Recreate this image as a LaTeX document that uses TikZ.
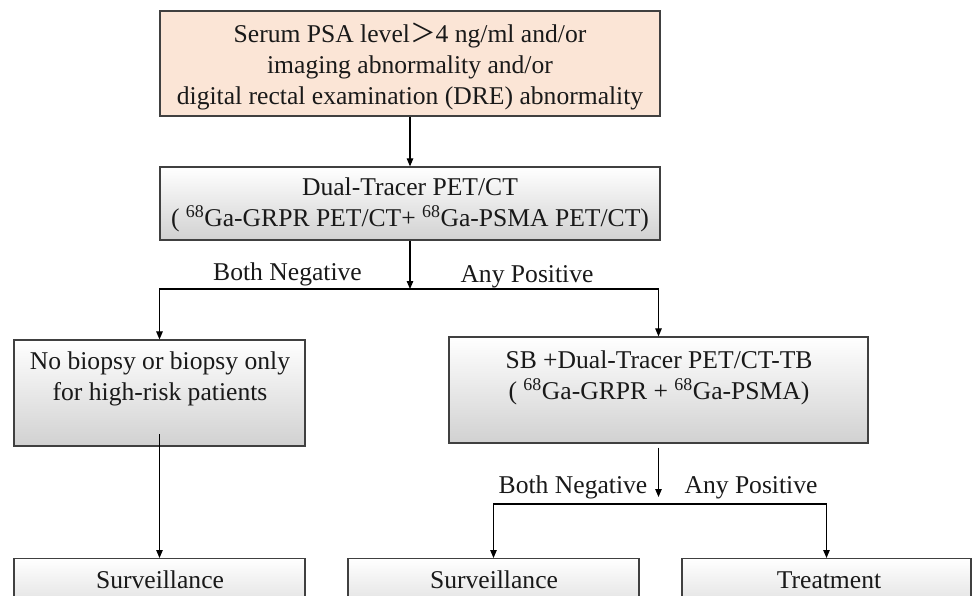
\documentclass[tikz,border=0pt]{standalone}
\usepackage{fontspec}
\setmainfont{Liberation Serif}
\newfontfamily\cjkfont{Noto Sans CJK SC}
\usetikzlibrary{arrows.meta}
\definecolor{peach}{HTML}{FBE5D6}
\definecolor{edgegray}{HTML}{404040}
\begin{document}
\begin{tikzpicture}[x=1pt,y=-1pt,
  box/.style={draw=edgegray, line width=1.2pt, rectangle, inner sep=0pt},
  graybox/.style={box, top color=white, bottom color=black!18},
  txt/.style={font=\fontsize{25.6}{31}\selectfont, align=center, inner sep=0pt, text=black!90},
  arr/.style={line width=1.1pt, -{Triangle[length=8pt,width=6.5pt]}},
  ln/.style={line width=1.1pt}]
\clip (0,0) rectangle (973,596);
\useasboundingbox (0,0) rectangle (973,596);
% boxes
\node[box, fill=peach, minimum width=500pt, minimum height=105pt] (b1) at (410,63.5) {};
\node[graybox, minimum width=500pt, minimum height=73pt] (b2) at (410,203.5) {};
\node[graybox, minimum width=291pt, minimum height=106pt] (b3) at (159.5,393) {};
\node[graybox, minimum width=419pt, minimum height=106pt] (b4) at (658.5,390) {};
\node[graybox, minimum width=291pt, minimum height=73pt, anchor=north] (b5) at (159.5,558) {};
\node[graybox, minimum width=291pt, minimum height=73pt, anchor=north] (b6) at (493.5,558) {};
\node[graybox, minimum width=289pt, minimum height=73pt, anchor=north] (b7) at (826.5,558) {};
% texts
\node[txt] (t1) at (410,66.5) {Serum PSA level{\cjkfont ＞}4 ng/ml and/or\\imaging abnormality and/or\\digital rectal examination (DRE) abnormality};
\node[txt] (t2) at (410,205) {Dual-Tracer PET/CT\\( \textsuperscript{68}Ga-GRPR PET/CT+ \textsuperscript{68}Ga-PSMA PET/CT)};
\node[txt] (t3) at (160,379) {No biopsy or biopsy only\\for high-risk patients};
\node[txt] (t4) at (659,377.5) {SB +Dual-Tracer PET/CT-TB\\( \textsuperscript{68}Ga-GRPR + \textsuperscript{68}Ga-PSMA)};
\node[txt, anchor=base] (t5) at (160,588) {Surveillance};
\node[txt, anchor=base] (t6) at (494,588) {Surveillance};
\node[txt, anchor=base] (t7) at (829,588) {Treatment};
% labels
\node[txt, anchor=base] (l1) at (287.5,280) {Both Negative};
\node[txt, anchor=base] (l2) at (527,282) {Any Positive};
\node[txt, anchor=base] (l3) at (573,493) {Both Negative};
\node[txt, anchor=base] (l4) at (751,493) {Any Positive};
% connectors
\coordinate (j1) at (410,289);
\coordinate (jl) at (159.5,289);
\coordinate (jr) at (658.5,289);
\coordinate (s3) at (159.5,434);
\coordinate (j2) at (658.5,497);
\coordinate (j2l) at (493.5,504);
\coordinate (j2r) at (826.5,504);
\draw[arr] (b1) -- (b2);
\draw[arr] (b2) -- (j1);
\draw[arr] (jr) -- (jl) -- (b3.north);
\draw[arr] (jr) -- (b4.north);
\draw[arr] (s3) -- (b5.north);
\draw[arr] ([yshift=-4pt]b4.south) -- (j2);
\draw[arr] (j2r) -- (j2l) -- (b6.north);
\draw[arr] (j2r) -- (b7.north);
\end{tikzpicture}
\end{document}
